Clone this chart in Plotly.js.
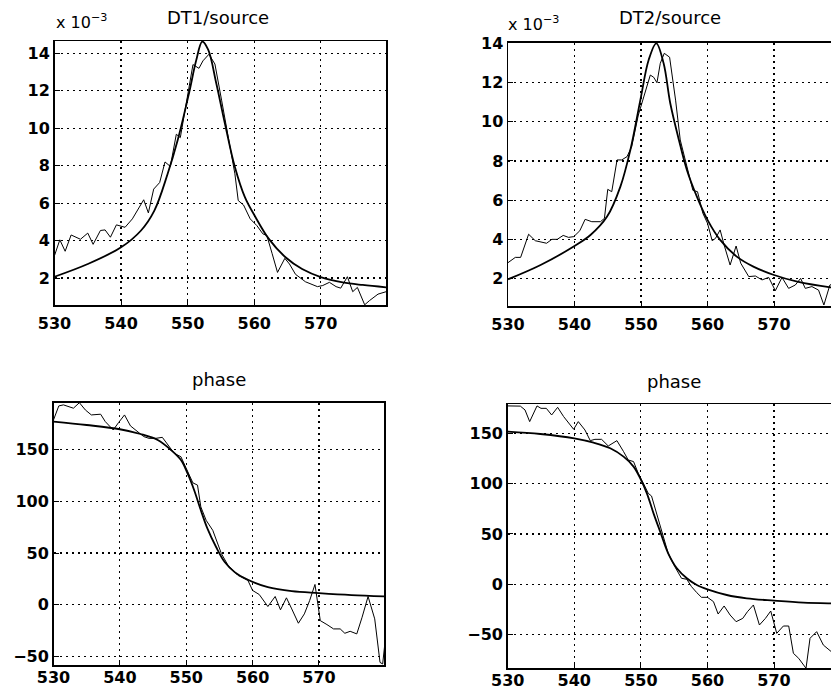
<!DOCTYPE html>
<html>
<head>
<meta charset="utf-8">
<script src="https://cdn.plot.ly/plotly-3.0.1.min.js"></script>
<style>html,body{margin:0;padding:0;background:#fff;overflow:hidden}</style>
</head>
<body>
<div id="chart" style="width:831px;height:696px"></div>
<script>
// ---- DT1/source magnitude (units of 1e-3) ----
const dt1X = [530.0,530.8,531.6,532.5,533.9,535.0,535.8,536.9,537.6,538.4,539.3,540.6,541.7,543.4,544.1,544.9,545.8,546.6,547.4,548.3,548.9,549.8,550.8,551.7,552.3,553.2,554.1,555.1,556.1,557.1,557.6,558.4,559.4,560.4,561.3,561.9,562.7,563.5,564.6,565.3,566.2,567.7,569.5,570.3,571.3,572.3,573.0,574.0,574.8,575.5,576.6,577.3,578.6,580.0];
const dt1Meas = [3.2,4.04,3.43,4.3,4.07,4.4,3.8,4.54,4.57,4.18,4.84,4.71,5.16,6.18,5.48,6.75,7.1,8.2,7.96,9.68,9.5,11.3,13.4,13.2,13.6,13.95,13.43,11.5,9.5,7.57,6.14,5.9,5.16,4.8,4.36,4.27,3.3,2.3,3.05,2.75,2.2,1.8,1.54,1.6,1.77,1.54,1.46,2.07,1.27,1.5,0.57,0.79,1.14,1.29];
const fit1X = [530,535,540,543,545,547,548.5,550.2,551.3,552.2,553.1,554.3,555.6,557.1,558.6,560.2,562.2,564.7,567.2,570.1,573.3,576.3,580];
const fit1Y = [2.07,2.75,3.64,4.54,5.6,7.57,9.36,11.86,13.64,14.63,14.18,12.4,10.25,7.93,6.32,5.25,4.09,3.11,2.48,2.04,1.77,1.63,1.5];

// ---- DT2/source magnitude (units of 1e-3) ----
const dt2X = [530,531.1,531.9,533.1,534.1,535.8,536.6,537.4,538.3,539.1,539.9,540.8,541.6,542.6,543.9,544.5,545.0,545.6,546.4,547.1,547.9,548.6,549.6,550.7,551.4,551.9,552.4,552.9,553.5,554.3,555.2,555.9,556.9,557.8,558.5,559.3,560.0,560.7,561.2,561.9,562.5,563.4,564.3,565.0,566.2,567.2,568.2,569.2,570.2,571.2,572.2,573.2,574.0,574.7,575.7,576.7,577.5,578.4,579.5];
const dt2Meas = [2.81,3.08,3.08,4.26,3.93,3.8,4.0,4.0,4.2,4.1,4.14,4.44,5.02,4.9,4.9,5.07,6.55,6.43,8.05,8.05,8.22,8.73,10.34,11.62,12.38,12.27,11.99,12.98,13.49,13.29,11.1,9.07,7.7,6.5,6.43,5.33,4.82,3.93,4.05,4.48,3.71,2.69,3.66,2.78,2.1,2.13,1.93,2.06,1.38,2.06,1.5,1.67,2.01,1.5,1.59,1.41,0.65,1.67,1.8];
const fit2X = [530,534.9,540,542.4,544.9,546.9,548.4,549.9,551.15,552.3,553.4,554.4,555.7,556.9,558.4,560,561.9,564.4,566.9,570,573.5,578.5,580];
const fit2Y = [1.96,2.69,3.66,4.22,5.16,6.69,8.56,11.1,13.15,14.0,12.98,10.94,9.07,7.54,6.18,4.99,3.97,3.12,2.61,2.18,1.84,1.55,1.5];

// ---- phase 1 (degrees) ----
const ph1X = [530,530.8,531.5,533,533.9,534.8,535.7,537.1,537.8,539,539.8,540.7,541.6,542.6,543.6,544.4,545.4,546.4,547.2,548.2,549.2,549.9,551.0,551.7,552.2,553.0,554.0,555.3,556.3,557.8,559.3,560.0,561.0,562.3,563.4,564.2,565.1,565.9,566.9,567.8,568.6,569.4,570.2,571.2,572.2,573.2,573.9,574.7,575.7,576.5,577.4,578.4,579.2,579.6,580];
const ph1Meas = [178.4,191.9,192.9,189.7,195,188,183.2,183.9,176.8,168.7,175.8,183.2,172.6,167.1,162.3,160.6,160.6,161.6,154.2,146.1,142.9,133.2,117.7,115.5,94.5,81.6,71.9,49.4,38.1,28.4,23.5,13.9,10.0,-1.6,8.1,-4.8,6.8,-3.9,-17.7,-8.7,4.2,19.7,-15.2,-19,-23.2,-23.2,-27.4,-25.5,-28,-11.9,8.1,-13.5,-55.5,-57,-33];
const fit3X = [530,535,540,543.1,545.7,547.7,549.2,550.2,551.2,552.2,553.2,554.5,555.8,557.3,559.3,562.3,565.9,570,574.9,580];
const fit3Y = [176.8,173.5,169.4,164.8,159,149.4,139.7,126.8,110.6,91.3,73.5,55.8,41.3,31.6,24.2,17.1,13.2,11.3,9.4,8.1];

// ---- phase 2 (degrees) ----
const ph2X = [530,531.9,532.6,533.3,534.4,535,535.8,536.6,537.5,538.4,539.9,540.6,541.6,542.4,543.1,544.1,545.1,546.4,547.4,548.1,548.9,549.6,550.5,551.1,551.6,552.4,553.1,554.1,555.1,556.1,556.9,557.6,558.4,559.1,560,560.9,561.6,562.5,563.4,564.3,565.3,566,566.9,567.8,568.7,569.5,570.4,571.4,572.2,572.9,573.7,574.8,575.4,576.4,577.4,578.6,580];
const ph2Meas = [177.2,177,173.2,161.6,177.2,174.8,174.8,168.2,175.8,166.6,154,161.6,153.3,142.7,144,144,137.4,142.7,131.8,123.5,121.9,110.3,98.7,90.4,87.7,68.9,54,30.8,17.5,6,5,-2.3,-8.3,-12.9,-12.9,-17.2,-29.5,-21.5,-30.5,-37.1,-33.8,-27.2,-20.5,-40.4,-33.8,-26.5,-48.7,-41.4,-41.4,-68.5,-73.5,-83.4,-53.6,-47,-60.3,-66.9,-70];
const fit4X = [530,534.9,540,542.9,545.4,547.4,548.9,549.9,550.9,551.9,552.9,554.1,555.4,556.9,558.4,560,562.9,565.9,570,574.4,578.6,580];
const fit4Y = [151.7,149.3,145,140.7,135.1,126.8,116.9,105.3,90.4,70.5,52.3,30.8,15.9,6,-0.7,-5,-10.6,-13.9,-16.2,-18.2,-18.9,-19];

const xTicks = [530,540,550,560,570];
const magTicks = [2,4,6,8,10,12,14];
const phaseTicks = [-50,0,50,100,150];
const titles = ["DT1/source","DT2/source","phase","phase"];
const expLabel = "x 10<sup>\u22123</sup>";

const W = 831, H = 696;
const FONT = "DejaVu Sans, Verdana, sans-serif";

function meas(x, y, xa, ya) {
  return {x: x, y: y, xaxis: xa, yaxis: ya, type: 'scatter', mode: 'lines',
          line: {color: '#000', width: 1}, hoverinfo: 'skip', showlegend: false};
}
function fit(x, y, xa, ya) {
  return {x: x, y: y, xaxis: xa, yaxis: ya, type: 'scatter', mode: 'lines',
          line: {color: '#000', width: 1.8, shape: 'spline', smoothing: 1}, hoverinfo: 'skip', showlegend: false};
}

const data = [
  meas(dt1X, dt1Meas, 'x', 'y'), fit(fit1X, fit1Y, 'x', 'y'),
  meas(dt2X, dt2Meas, 'x2', 'y2'), fit(fit2X, fit2Y, 'x2', 'y2'),
  meas(ph1X, ph1Meas, 'x3', 'y3'), fit(fit3X, fit3Y, 'x3', 'y3'),
  meas(ph2X, ph2Meas, 'x4', 'y4'), fit(fit4X, fit4Y, 'x4', 'y4')
];

function ax(extra) {
  return Object.assign({
    showline: true, mirror: true, linecolor: '#000', linewidth: 1.5,
    showgrid: true, gridcolor: '#000', gridwidth: 1.2, griddash: '2px,4px',
    zeroline: false, ticks: 'inside', ticklen: 5, tickcolor: '#000', tickwidth: 1,
    tickfont: {family: FONT, size: 16, color: '#000', weight: 'bold'},
    fixedrange: true
  }, extra);
}

const layout = {
  width: W, height: H,
  margin: {l: 0, r: 0, t: 0, b: 0},
  paper_bgcolor: '#fff', plot_bgcolor: '#fff',
  showlegend: false,
  xaxis:  ax({domain: [54.5/W, 386/W], range: [530, 579.8], tickvals: xTicks, anchor: 'y', ticklabelstandoff: 3}),
  yaxis:  ax({domain: [1-305/H, 1-41/H], range: [0.56, 14.66], tickvals: magTicks, anchor: 'x'}),
  xaxis2: ax({domain: [508/W, 1], range: [530, 578.57], tickvals: xTicks, anchor: 'y2', ticklabelstandoff: 3}),
  yaxis2: ax({domain: [1-306/H, 1-42.7/H], range: [0.6, 14.03], tickvals: magTicks, anchor: 'x2'}),
  xaxis3: ax({domain: [53.5/W, 384/W], range: [530, 579.8], tickvals: xTicks, anchor: 'y3', ticklabelstandoff: -3}),
  yaxis3: ax({domain: [1-665/H, 1-402.7/H], range: [-58, 195], tickvals: phaseTicks, anchor: 'x3'}),
  xaxis4: ax({domain: [507.7/W, 1], range: [530, 578.55], tickvals: xTicks, anchor: 'y4', ticklabelstandoff: -3}),
  yaxis4: ax({domain: [1-668.3/H, 1-404.3/H], range: [-83.4, 178.8], tickvals: phaseTicks, anchor: 'x4'}),
  annotations: [
    {text: titles[0], xref: 'paper', yref: 'paper', x: 218/W, y: 1-18/H, xanchor: 'center', yanchor: 'middle', showarrow: false, font: {family: FONT, size: 18, color: '#000'}},
    {text: titles[1], xref: 'paper', yref: 'paper', x: 670/W, y: 1-18/H, xanchor: 'center', yanchor: 'middle', showarrow: false, font: {family: FONT, size: 18, color: '#000'}},
    {text: titles[2], xref: 'paper', yref: 'paper', x: 219/W, y: 1-379/H, xanchor: 'center', yanchor: 'middle', showarrow: false, font: {family: FONT, size: 18, color: '#000'}},
    {text: titles[3], xref: 'paper', yref: 'paper', x: 674/W, y: 1-381/H, xanchor: 'center', yanchor: 'middle', showarrow: false, font: {family: FONT, size: 18, color: '#000'}},
    {text: expLabel, xref: 'paper', yref: 'paper', x: 54/W, y: 1-34/H, xanchor: 'left', yanchor: 'bottom', showarrow: false, font: {family: FONT, size: 16, color: '#000'}},
    {text: expLabel, xref: 'paper', yref: 'paper', x: 506/W, y: 1-36/H, xanchor: 'left', yanchor: 'bottom', showarrow: false, font: {family: FONT, size: 16, color: '#000'}}
  ]
};

Plotly.newPlot('chart', data, layout, {staticPlot: true, displayModeBar: false});
</script>
</body>
</html>
